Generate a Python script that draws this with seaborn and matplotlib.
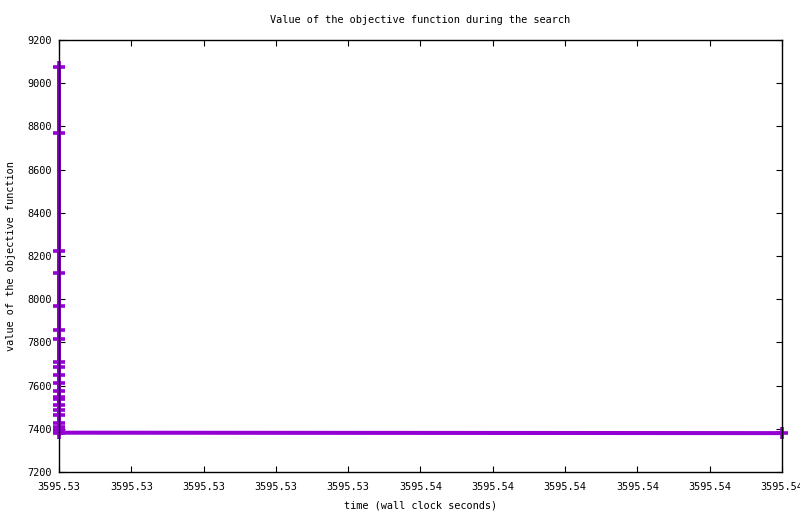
import pandas as pd
import seaborn as sns
import matplotlib.pyplot as plt
from matplotlib.ticker import FormatStrFormatter, MultipleLocator

# objective values (drop happens at the start time)
start_time = 3595.5305
end_time = 3595.5405
objective = [9074, 8768, 8222, 8123, 7969, 7857, 7817, 7709, 7687, 7650,
             7613, 7576, 7548, 7536, 7511, 7487, 7465, 7425, 7410, 7394,
             7382]
final_objective = 7380

times = [start_time] * len(objective) + [end_time]
values = objective + [final_objective]

df = pd.DataFrame({"time": times, "value": values})

sns.set_style("ticks")
plt.rcParams["font.family"] = ["DejaVu Sans Mono"]
plt.rcParams["text.color"] = "black"
plt.rcParams["axes.labelcolor"] = "black"

fig = plt.figure(figsize=(8.0, 5.14), dpi=100)
ax = fig.add_axes([59 / 800, 42 / 514, 723 / 800, 432 / 514])

sns.lineplot(
    data=df,
    x="time",
    y="value",
    estimator=None,
    sort=False,
    color="#9400D3",
    linewidth=2.9,
    marker="+",
    markersize=8,
    markeredgewidth=2.6,
    markeredgecolor="#9400D3",
    clip_on=False,
    ax=ax,
)

ax.set_xlim(start_time, end_time)
ax.set_ylim(7200, 9200)
ax.yaxis.set_major_locator(MultipleLocator(200))
ax.xaxis.set_major_locator(MultipleLocator(0.001, offset=0.0005))
ax.xaxis.set_major_formatter(FormatStrFormatter("%.2f"))

for side in ["top", "right", "left", "bottom"]:
    ax.spines[side].set_visible(True)
    ax.spines[side].set_color("black")
    ax.spines[side].set_linewidth(1.0)

ax.tick_params(axis="both", direction="in", length=4.5, width=0.8,
               top=True, right=True, labelsize=7.4, colors="black")
ax.tick_params(axis="y", pad=5)
ax.tick_params(axis="x", pad=7)

ax.set_title("Value of the objective function during the search",
             fontsize=7.4, pad=12, color="black")
ax.set_xlabel("time (wall clock seconds)", fontsize=7.4, labelpad=6)
ax.set_ylabel("value of the objective function", fontsize=7.4, labelpad=8)

fig.savefig("out.png", dpi=100)
plt.close(fig)
